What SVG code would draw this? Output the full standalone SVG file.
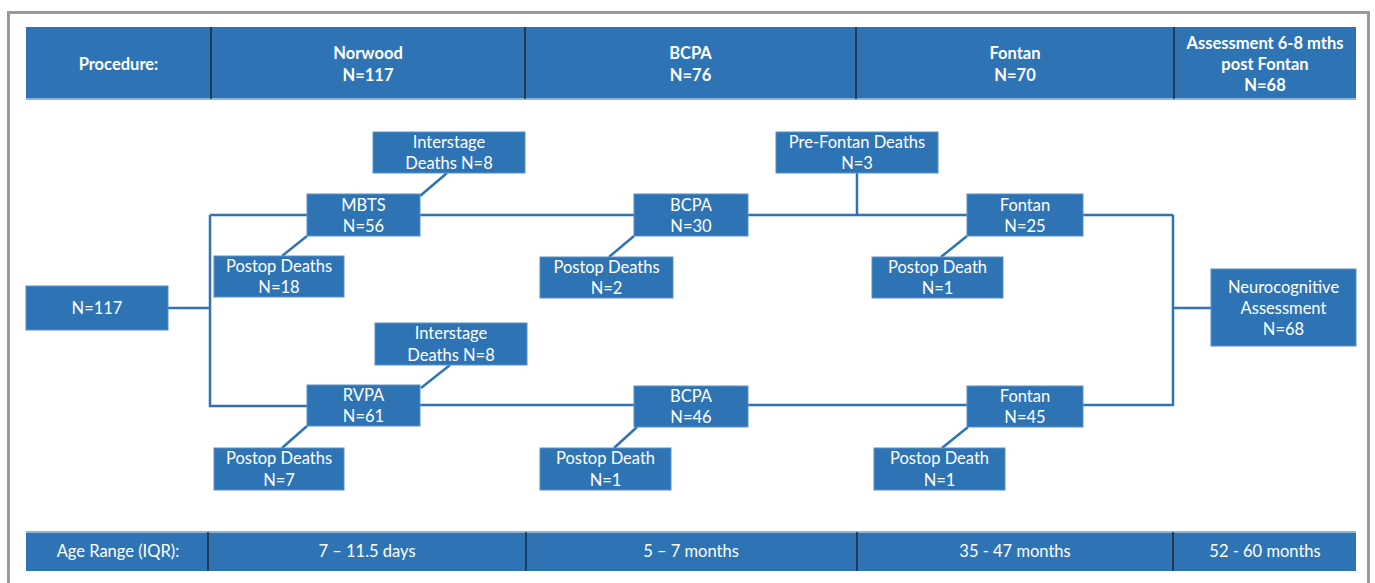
<svg xmlns="http://www.w3.org/2000/svg" width="1375" height="583" viewBox="0 0 1375 583">
<style>
.bg{fill:#ffffff}
.frame{fill:none;stroke:#9a9a9a;stroke-width:3}
.band{fill:#2E74B5}
.bandline{stroke:#8FB4DC;stroke-width:2}
.div{stroke:#1a2a3a;stroke-width:1.5}
.node{fill:#2E74B5;stroke:#5B8FC8;stroke-width:1}
.link{fill:none;stroke:#2E74B5;stroke-width:2.5}
text{font-family:Lato,"Open Sans","Liberation Sans",sans-serif;fill:#ffffff;text-anchor:middle}
.h{font-weight:bold;font-size:16.5px}
.t{font-size:16.5px}
.b{font-size:16.5px}
</style>
<rect class="bg" x="0" y="0" width="1375" height="583"/>
<rect class="frame" x="8.5" y="12.5" width="1360" height="600"/>

<g id="header">
<rect class="band" x="26" y="27" width="1330" height="72"/>
<line class="bandline" x1="26" y1="99" x2="1356" y2="99"/>
<line class="div" x1="211" y1="27" x2="211" y2="99"/>
<line class="div" x1="525" y1="27" x2="525" y2="99"/>
<line class="div" x1="856" y1="27" x2="856" y2="99"/>
<line class="div" x1="1174" y1="27" x2="1174" y2="99"/>
<text class="h" x="118.5" y="70">Procedure:</text>
<text class="h" x="368" y="59">Norwood</text>
<text class="h" x="368" y="81">N=117</text>
<text class="h" x="690.5" y="59">BCPA</text>
<text class="h" x="690.5" y="81">N=76</text>
<text class="h" x="1015" y="59">Fontan</text>
<text class="h" x="1015" y="81">N=70</text>
<text class="h" x="1265" y="49">Assessment 6-8 mths</text>
<text class="h" x="1265" y="70">post Fontan</text>
<text class="h" x="1265" y="91">N=68</text>
</g>

<g id="connectors">
<polyline class="link" points="168,308 210,308"/>
<polyline class="link" points="210,215 210,406 307,406"/>
<line class="link" x1="210" y1="215" x2="1173" y2="215"/>
<line class="link" x1="420" y1="405" x2="1173" y2="405"/>
<polyline class="link" points="1173,215 1173,406"/>
<line class="link" x1="1173" y1="308" x2="1211" y2="308"/>
<line class="link" x1="857" y1="173" x2="857" y2="215"/>
<line class="link" x1="447" y1="173" x2="420" y2="196"/>
<line class="link" x1="282" y1="256" x2="307" y2="236"/>
<line class="link" x1="609" y1="257" x2="634" y2="236"/>
<line class="link" x1="941" y1="257" x2="967" y2="236"/>
<line class="link" x1="450" y1="365" x2="421" y2="388"/>
<line class="link" x1="282" y1="448" x2="307" y2="426"/>
<line class="link" x1="614" y1="448" x2="637" y2="427"/>
<line class="link" x1="942" y1="448" x2="968" y2="427"/>
</g>

<g id="n117"><rect class="node" x="26" y="286" width="142" height="44"/><text class="t" x="97" y="314">N=117</text></g>

<g id="mbts"><rect class="node" x="307" y="194" width="113" height="42"/><text class="t" x="363.5" y="211">MBTS</text><text class="t" x="363.5" y="232">N=56</text></g>
<g id="interstage1"><rect class="node" x="373" y="132" width="152" height="41"/><text class="t" x="449" y="148">Interstage</text><text class="t" x="449" y="169">Deaths N=8</text></g>
<g id="postop18"><rect class="node" x="214" y="256" width="130" height="41"/><text class="t" x="279" y="272">Postop Deaths</text><text class="t" x="279" y="293">N=18</text></g>

<g id="bcpa30"><rect class="node" x="634" y="194" width="114" height="42"/><text class="t" x="691" y="211">BCPA</text><text class="t" x="691" y="232">N=30</text></g>
<g id="postop2"><rect class="node" x="540" y="257" width="133" height="41"/><text class="t" x="606.5" y="273">Postop Deaths</text><text class="t" x="606.5" y="294">N=2</text></g>
<g id="prefontan"><rect class="node" x="776" y="132" width="162" height="41"/><text class="t" x="857" y="148">Pre-Fontan Deaths</text><text class="t" x="857" y="169">N=3</text></g>

<g id="fontan25"><rect class="node" x="967" y="194" width="116" height="42"/><text class="t" x="1025" y="211">Fontan</text><text class="t" x="1025" y="232">N=25</text></g>
<g id="postop1a"><rect class="node" x="872" y="257" width="131" height="41"/><text class="t" x="937.5" y="273">Postop Death</text><text class="t" x="937.5" y="294">N=1</text></g>

<g id="neuro"><rect class="node" x="1211" y="269" width="145" height="77"/><text class="t" x="1283.5" y="293">Neurocognitive</text><text class="t" x="1283.5" y="314">Assessment</text><text class="t" x="1283.5" y="335">N=68</text></g>

<g id="rvpa"><rect class="node" x="307" y="385" width="113" height="41"/><text class="t" x="363.5" y="401">RVPA</text><text class="t" x="363.5" y="422">N=61</text></g>
<g id="interstage2"><rect class="node" x="375" y="323" width="152" height="42"/><text class="t" x="451" y="339">Interstage</text><text class="t" x="451" y="361">Deaths N=8</text></g>
<g id="postop7"><rect class="node" x="214" y="448" width="130" height="42"/><text class="t" x="279" y="464">Postop Deaths</text><text class="t" x="279" y="486">N=7</text></g>

<g id="bcpa46"><rect class="node" x="634" y="386" width="114" height="41"/><text class="t" x="691" y="402">BCPA</text><text class="t" x="691" y="423">N=46</text></g>
<g id="postop1b"><rect class="node" x="540" y="448" width="131" height="42"/><text class="t" x="605.5" y="464">Postop Death</text><text class="t" x="605.5" y="486">N=1</text></g>

<g id="fontan45"><rect class="node" x="967" y="386" width="116" height="41"/><text class="t" x="1025" y="402">Fontan</text><text class="t" x="1025" y="423">N=45</text></g>
<g id="postop1c"><rect class="node" x="874" y="448" width="131" height="42"/><text class="t" x="939.5" y="464">Postop Death</text><text class="t" x="939.5" y="486">N=1</text></g>

<g id="agerow">
<rect class="band" x="26" y="532" width="1330" height="39"/>
<line class="bandline" x1="26" y1="532" x2="1356" y2="532"/>
<line class="div" x1="208" y1="532" x2="208" y2="571"/>
<line class="div" x1="526" y1="532" x2="526" y2="571"/>
<line class="div" x1="857" y1="532" x2="857" y2="571"/>
<line class="div" x1="1173" y1="532" x2="1173" y2="571"/>
<text class="b" x="118" y="557">Age Range (IQR):</text>
<text class="b" x="367" y="557">7 – 11.5 days</text>
<text class="b" x="691" y="557">5 – 7 months</text>
<text class="b" x="1015" y="557">35 - 47 months</text>
<text class="b" x="1265" y="557">52 - 60 months</text>
</g>
</svg>
